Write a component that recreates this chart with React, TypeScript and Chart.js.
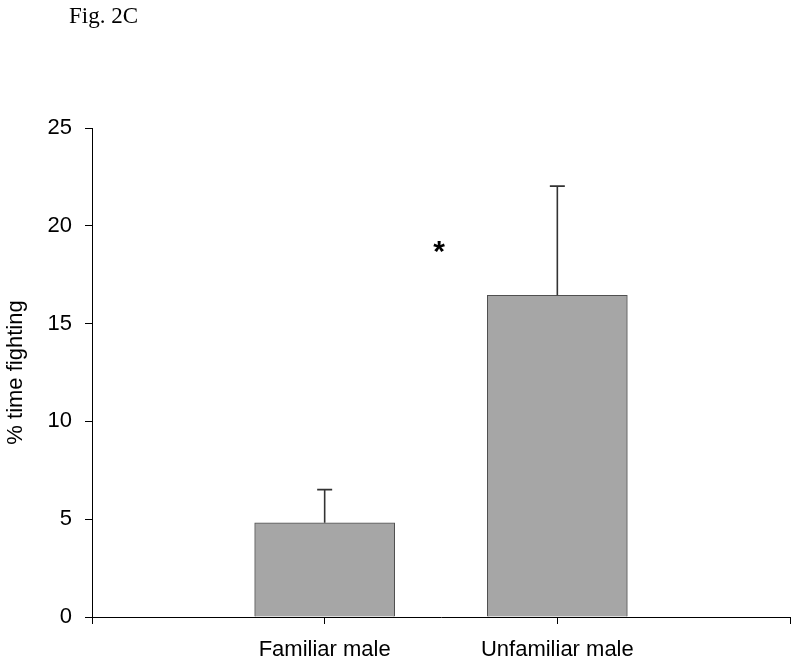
import React, { useEffect, useRef } from "react";
import { Chart, registerables } from "chart.js";

Chart.register(...registerables);

const categories = ["", "Familiar male", "Unfamiliar male", ""];
const meanValues = [null, 4.82, 16.45, null];
const errorValues = [null, 1.69, 5.58, null];
const yTicks = [0, 5, 10, 15, 20, 25];
const figureLabel = "Fig. 2C";
const yTitle = "% time fighting";
const significanceMark = "*";
const significanceX = 1.5;
const significanceY = 18.2;

const FONT = "'Liberation Sans', Arial, sans-serif";

const errorBarPlugin = {
  id: "errorBars",
  afterDatasetsDraw(chart: any) {
    const { ctx, scales } = chart;
    const xs = scales.x;
    const ys = scales.y;
    ctx.save();
    ctx.strokeStyle = "#333333";
    ctx.lineWidth = 1.6;
    meanValues.forEach((v, i) => {
      const e = errorValues[i];
      if (v == null || e == null) return;
      const x = xs.getPixelForValue(i);
      const yb = ys.getPixelForValue(v);
      const yt = ys.getPixelForValue(v + e);
      ctx.beginPath();
      ctx.moveTo(x, yb);
      ctx.lineTo(x, yt);
      ctx.moveTo(x - 7.5, yt);
      ctx.lineTo(x + 7.5, yt);
      ctx.stroke();
    });
    // significance asterisk
    ctx.fillStyle = "#000";
    ctx.font = `bold 30px ${FONT}`;
    ctx.textAlign = "center";
    ctx.textBaseline = "alphabetic";
    ctx.fillText(
      significanceMark,
      xs.getPixelForValue(significanceX) - 2,
      ys.getPixelForValue(significanceY)
    );
    // figure label
    ctx.font = "23px 'Liberation Serif', 'Times New Roman', serif";
    ctx.textAlign = "left";
    ctx.fillText(figureLabel, 69, 23);
    ctx.restore();
  },
};

export default function App() {
  const ref = useRef<HTMLCanvasElement | null>(null);
  useEffect(() => {
    if (!ref.current) return;
    const chart = new Chart(ref.current, {
      type: "bar",
      data: {
        labels: categories,
        datasets: [
          {
            data: meanValues as any,
            backgroundColor: "#a6a6a6",
            borderColor: "#505050",
            borderWidth: 1,
            barThickness: 140,
          },
        ],
      },
      options: {
        animation: false,
        responsive: true,
        maintainAspectRatio: false,
        layout: { padding: { top: 128, left: 0, right: 10, bottom: 0 } },
        plugins: {
          legend: { display: false },
          tooltip: { enabled: false },
        },
        scales: {
          x: {
            offset: false,
            grid: {
              offset: false,
              drawOnChartArea: false,
              tickLength: 7,
              color: "#000",
            },
            border: { display: true, color: "#000", width: 1 },
            ticks: {
              color: "#000",
              font: { family: FONT, size: 22 },
              padding: 13,
              maxRotation: 0,
              autoSkip: false,
            },
            afterFit(scale: any) {
              scale.height = 47;
              scale.paddingLeft = 0;
              scale.paddingRight = 0;
            },
          },
          y: {
            min: 0,
            max: 25,
            afterBuildTicks(scale: any) {
              scale.ticks = yTicks.map((v) => ({ value: v }));
            },
            grid: {
              drawOnChartArea: false,
              tickLength: 7,
              color: "#000",
            },
            border: { display: true, color: "#000", width: 1 },
            ticks: {
              color: "#000",
              font: { family: FONT, size: 22 },
              padding: 13,
            },
            title: {
              display: true,
              text: yTitle,
              color: "#000",
              font: { family: FONT, size: 22 },
              padding: { top: 3, bottom: 0 },
            },
            afterFit(scale: any) {
              scale.width = 92;
            },
          },
        },
      },
      plugins: [errorBarPlugin],
    });
    return () => chart.destroy();
  }, []);
  return (
    <div style={{ position: "absolute", left: 0, top: 0, width: 800, height: 664, background: "#fff" }}>
      <canvas ref={ref} />
    </div>
  );
}
